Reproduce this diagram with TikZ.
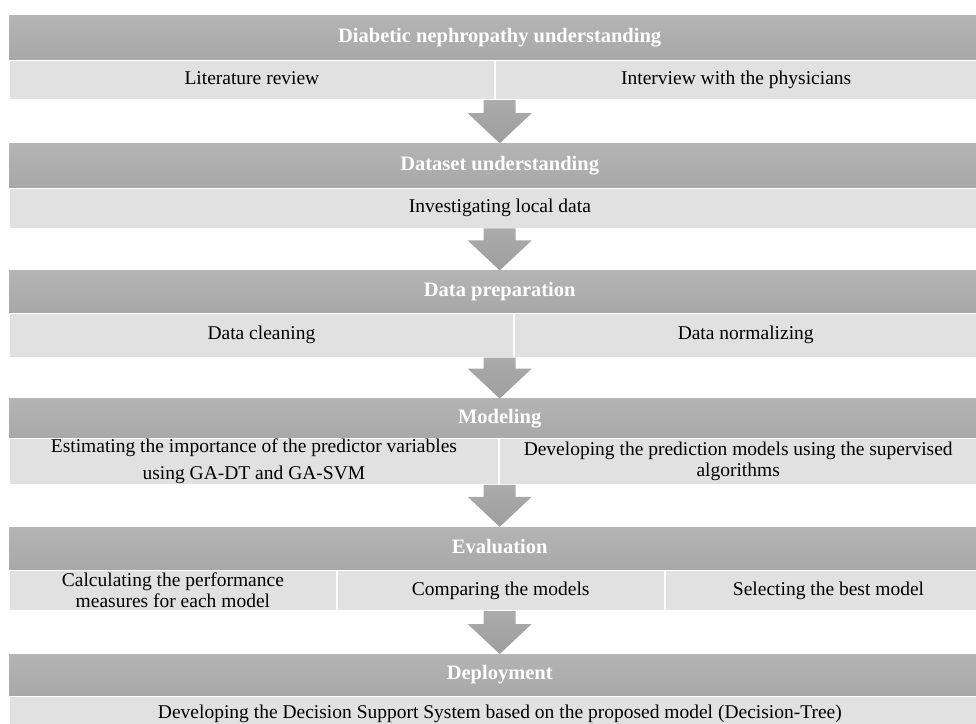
\documentclass[tikz,border=0pt]{standalone}
\usepackage{fontspec}
\setmainfont{Liberation Serif}
\usepackage{tikz}
\usetikzlibrary{positioning, calc}
\definecolor{phasetop}{HTML}{B4B4B4}
\definecolor{phasebot}{HTML}{A8A8A8}
\definecolor{taskfill}{HTML}{E1E1E1}
\definecolor{flowtop}{HTML}{ABABAB}
\definecolor{flowbot}{HTML}{9E9E9E}

\begin{document}
\begin{tikzpicture}[x=1pt,y=-1pt,
   phase/.style={anchor=north west, minimum width=981pt, inner sep=0pt,
      top color=phasetop, bottom color=phasebot, text=white,
      text height=14pt, text depth=4.5pt,
      font=\fontsize{20.5}{24}\selectfont\bfseries},
   task/.style={anchor=north west, inner sep=0pt, fill=taskfill, draw=white,
      line width=0.8pt, align=center, font=\fontsize{19.5}{21}\selectfont},
   oneline/.style={text height=13.5pt, text depth=4.5pt},
   flow/.style={top color=flowtop, bottom color=flowbot}]
\useasboundingbox (0,0) rectangle (976,723);
\clip (0,0) rectangle (976,723);

\node[phase, minimum height=45pt] (h1) at (9,15) {Diabetic nephropathy understanding};
\node[task, oneline, minimum width=485pt, minimum height=39pt, below right=0pt and 0pt of h1.south west] (s1a) {Literature review};
\node[task, oneline, minimum width=482pt, minimum height=39pt, right=0pt of s1a] (s1b) {Interview with the physicians};

\node[phase, minimum height=44pt, below right=43pt and 0pt of s1a.south west] (h2) {Dataset understanding};
\node[task, oneline, minimum width=981pt, minimum height=40pt, below right=0pt and 0pt of h2.south west] (s2) {Investigating local data};

\node[phase, minimum height=42pt, below right=42pt and 0pt of s2.south west] (h3) {Data preparation};
\node[task, oneline, minimum width=504pt, minimum height=44pt, below right=0pt and 0pt of h3.south west] (s3a) {Data cleaning};
\node[task, oneline, minimum width=463pt, minimum height=44pt, right=0pt of s3a] (s3b) {Data normalizing};

\node[phase, minimum height=39pt, below right=41pt and 0pt of s3a.south west] (h4) {Modeling};
\node[task, minimum width=489pt, minimum height=46pt, below right=0pt and 0pt of h4.south west] (s4a) {Estimating the importance of the predictor variables\\[6pt]using GA-DT and GA-SVM};
\node[task, minimum width=478pt, minimum height=46pt, right=0pt of s4a] (s4b) {Developing the prediction models using the supervised\\algorithms};

\node[phase, minimum height=43pt, below right=42pt and 0pt of s4a.south west] (h5) {Evaluation};
\node[task, minimum width=327pt, minimum height=40pt, below right=0pt and 0pt of h5.south west] (s5a) {Calculating the performance\\measures for each model};
\node[task, oneline, minimum width=327pt, minimum height=40pt, right=0pt of s5a] (s5b) {Comparing the models};
\node[task, oneline, minimum width=327pt, minimum height=40pt, right=0pt of s5b] (s5c) {Selecting the best model};

\node[phase, minimum height=42pt, below right=43pt and 0pt of s5a.south west] (h6) {Deployment};
\node[task, oneline, minimum width=981pt, minimum height=34pt, below right=0pt and 0pt of h6.south west] (s6) {Developing the Decision Support System based on the proposed model (Decision-Tree)};

\foreach \src/\dst in {s1a/h2, s2/h3, s3a/h4, s4a/h5, s5a/h6}
  \path[flow] ($(\dst.north |- \src.south)+(-16,0)$) -- ++(32,0) -- ($(\dst.north)+(16,-30)$)
     -- ++(16,0) -- (\dst.north) -- ($(\dst.north)+(-32,-30)$) -- ++(16,0) -- cycle;

\end{tikzpicture}
\end{document}
